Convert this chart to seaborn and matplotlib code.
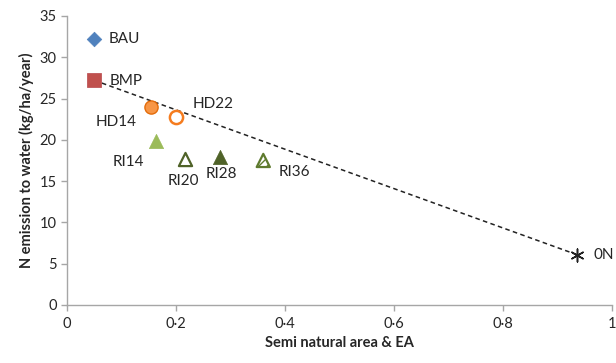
import matplotlib
matplotlib.use("Agg")
import matplotlib.pyplot as plt
import seaborn as sns
import pandas as pd

# ---- data ----
labels = ["BAU", "BMP", "HD14", "HD22", "RI14", "RI20", "RI28", "RI36", "0N"]
semi_natural = [0.05, 0.05, 0.153, 0.200, 0.164, 0.216, 0.281, 0.360, 0.935]
n_emission = [32.2, 27.2, 24.0, 22.8, 19.8, 17.7, 17.9, 17.5, 6.1]
x_ticks = [0, 0.2, 0.4, 0.6, 0.8, 1.0]
x_tick_labels = ["0", "0·2", "0·4", "0·6", "0·8", "1"]
y_ticks = [0, 5, 10, 15, 20, 25, 30, 35]

df = pd.DataFrame({"label": labels, "x": semi_natural, "y": n_emission})

sns.set_theme(style="white")
plt.rcParams['font.family'] = ['Lato', 'DejaVu Sans']

fig = plt.figure(figsize=(6.16, 3.63), dpi=100)
ax = fig.add_axes([0.109, 0.160, 0.8845, 0.796])

styles = {
    "BAU": dict(marker="D", s=55, color="#4F81BD", edgecolor="#4F81BD", lw=0.5),
    "BMP": dict(marker="s", s=115, color="#C0504D", edgecolor="#B8464A", lw=0.5),
    "HD14": dict(marker="o", s=90, color="#F79646", edgecolor="#E46C0A", lw=1.0),
    "HD22": dict(marker="o", s=90, color="white", edgecolor="#F57C1F", lw=1.8),
    "RI14": dict(marker="^", s=105, color="#9BBB59", edgecolor="#9BBB59", lw=0.5),
    "RI20": dict(marker="^", s=90, color="white", edgecolor="#4F6228", lw=1.6),
    "RI28": dict(marker="^", s=105, color="#4F6228", edgecolor="#4F6228", lw=0.5),
    "RI36": dict(marker="^", s=90, color="white", edgecolor="#5E7A2E", lw=1.6, hatch="////"),
    "0N": dict(marker=(6, 2, 0), s=85, color="#222222", edgecolor="#222222", lw=1.1),
}

# trend line between BMP and 0N
trend = df[df["label"].isin(["BMP", "0N"])]
sns.lineplot(data=trend, x="x", y="y", ax=ax, color="#222222", lw=1.1,
             linestyle=(0, (3, 2.2)), zorder=2)

for _, row in df.iterrows():
    st = dict(styles[row["label"]])
    hatch = st.pop("hatch", None)
    sub = df[df["label"] == row["label"]]
    if hatch:
        ax.scatter(sub["x"], sub["y"], marker=st["marker"], s=st["s"],
                   facecolor="white", edgecolor=st["edgecolor"], linewidth=st["lw"],
                   hatch=hatch, zorder=3)
    else:
        sns.scatterplot(data=sub, x="x", y="y", ax=ax, marker=st["marker"], s=st["s"],
                        color=st["color"], edgecolor=st["edgecolor"], linewidth=st["lw"],
                        zorder=3, legend=False)

offsets = {
    "BAU": (10, 0, "left"),
    "BMP": (11, -0.5, "left"),
    "HD14": (-10, -11, "right"),
    "HD22": (12, 9, "left"),
    "RI14": (-9, -15, "right"),
    "RI20": (-1, -16, "center"),
    "RI28": (1, -12, "center"),
    "RI36": (11, -8, "left"),
    "0N": (12, -0.5, "left"),
}
for lab, x, y in zip(labels, semi_natural, n_emission):
    dx, dy, ha = offsets[lab]
    ax.annotate(lab, (x, y), xytext=(dx, dy), textcoords="offset points",
                ha=ha, va="center", fontsize=11, color="#262626")

ax.set_xlim(0, 1)
ax.set_ylim(0, 35)
ax.set_xticks(x_ticks)
ax.set_xticklabels(x_tick_labels)
ax.set_yticks(y_ticks)
ax.set_xlabel("Semi natural area & EA", fontsize=10.5, fontweight="bold", labelpad=3)
ax.set_ylabel("N emission to water (kg/ha/year)", fontsize=10.5, fontweight="bold", labelpad=4)

for side in ["top", "right"]:
    ax.spines[side].set_visible(False)
for side in ["left", "bottom"]:
    ax.spines[side].set_color("#A6A6A6")
    ax.spines[side].set_linewidth(1.0)
ax.tick_params(axis="both", direction="out", length=4, width=1.0, color="#A6A6A6",
               labelsize=10.5, labelcolor="#262626", bottom=True, left=True)
ax.tick_params(axis="x", pad=5)

fig.savefig("out.png", dpi=100)
